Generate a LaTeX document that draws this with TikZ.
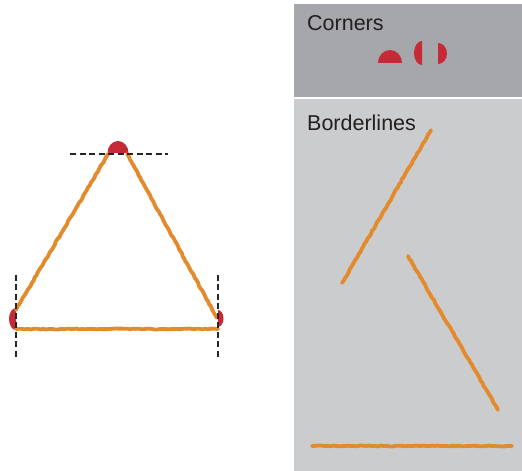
\documentclass[tikz,border=0pt]{standalone}
\usepackage{fontspec}
\setmainfont{Liberation Sans}
\usetikzlibrary{decorations.pathmorphing}
\definecolor{panelA}{HTML}{A6A7AA}
\definecolor{panelB}{HTML}{CBCCCE}
\definecolor{strokeor}{HTML}{E38B2C}
\definecolor{cornerred}{HTML}{C62A36}
\definecolor{textdark}{HTML}{231F20}
\tikzset{
  border/.style={draw=strokeor, line width=3.8pt, line cap=round, line join=round,
    decorate, decoration={random steps, segment length=3pt, amplitude=0.5pt}},
  guide/.style={draw=black!85, line width=2pt, dash pattern=on 6pt off 3.5pt},
  cornerfill/.style={fill=cornerred},
  paneltitle/.style={anchor=base west, inner sep=0pt, text=textdark, font=\fontsize{21.5}{24}\selectfont}
}
\begin{document}
\begin{tikzpicture}[x=1pt,y=1pt]
\useasboundingbox (0,0) rectangle (522,471);
\fill[white] (0,0) rectangle (522,471);
% panels
\fill[panelA] (294,374) rectangle (522,467);
\fill[panelB] (294,0) rectangle (522,372);
\node[paneltitle] (corners) at (307,440) {Corners};
\node[paneltitle] (borderlines) at (307,340) {Borderlines};
% corner pieces in panel
\fill[cornerfill] (378,408) arc[start angle=180, end angle=0, x radius=12, y radius=13] -- cycle;
\fill[cornerfill] (422,430) arc[start angle=90, end angle=270, x radius=8, y radius=12] -- cycle;
\fill[cornerfill] (438,428) arc[start angle=90, end angle=-90, x radius=9, y radius=10.5] -- cycle;
% corners on triangle
\fill[cornerfill] (107.5,318) arc[start angle=180, end angle=0, x radius=10.5, y radius=12] -- cycle;
\fill[cornerfill] (16,163) arc[start angle=90, end angle=270, x radius=7, y radius=11] -- cycle;
\fill[cornerfill] (218,161) arc[start angle=90, end angle=-90, x radius=5.5, y radius=8.5] -- cycle;
% triangle borders
\path[border] (108,317) -- (16,161);
\path[border] (127,317) -- (217,153);
\path[border] (16,142) -- (218,142);
% guides
\path[guide] (70,317) -- (168,317);
\path[guide] (16,196) -- (16,111);
\path[guide] (218,196) -- (218,111);
% borderlines in panel
\path[border] (342,188) -- (431,341);
\path[border] (408,215) -- (498,61);
\path[border] (312,25) -- (512,25);
\end{tikzpicture}
\end{document}
